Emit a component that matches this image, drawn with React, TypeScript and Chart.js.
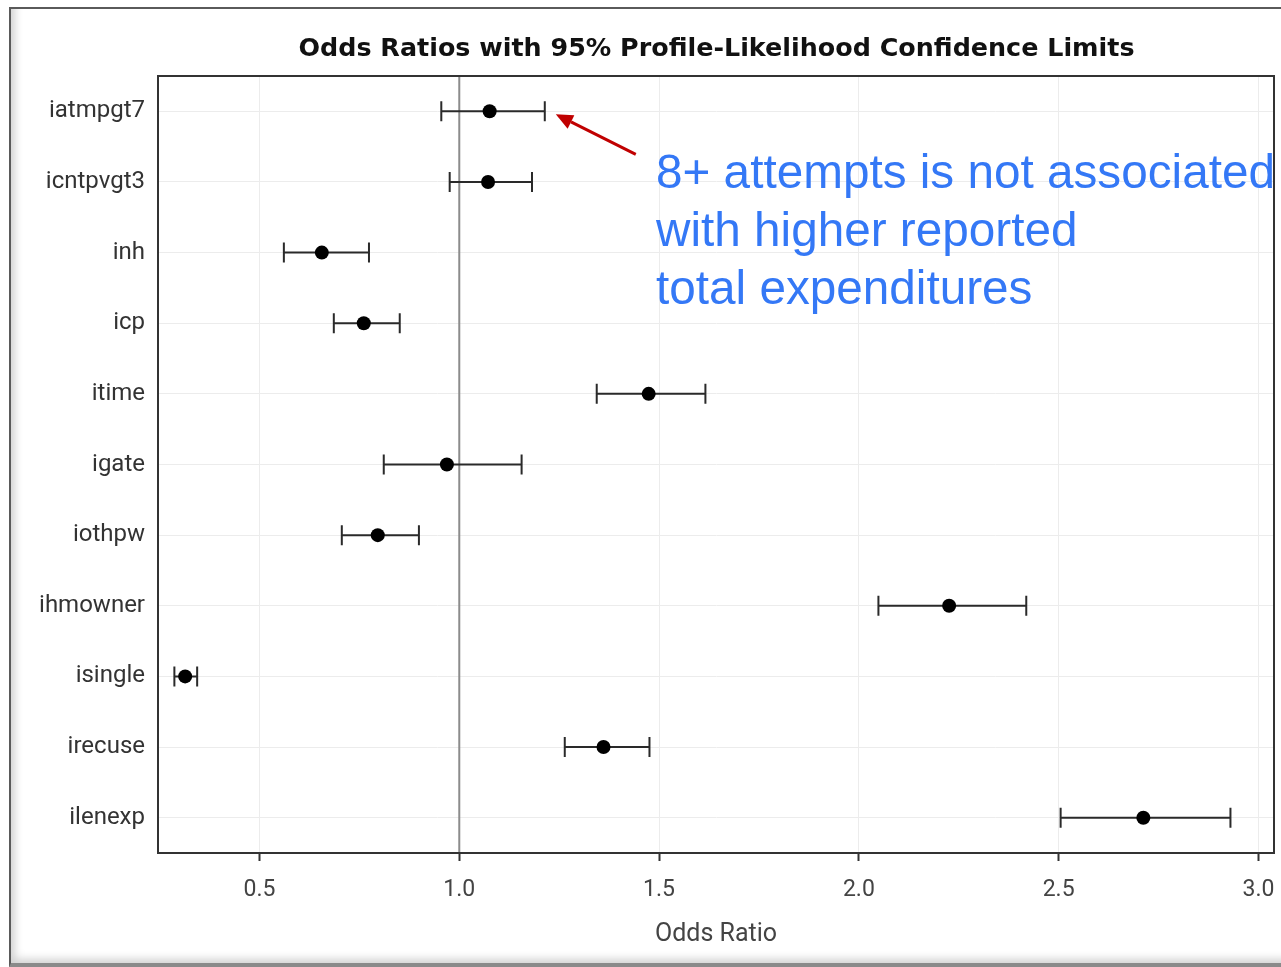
import React, { useEffect, useRef } from "react";
import { Chart, registerables } from "chart.js";

Chart.register(...registerables);

const categories = ["iatmpgt7", "icntpvgt3", "inh", "icp", "itime", "igate", "iothpw", "ihmowner", "isingle", "irecuse", "ilenexp"];
const oddsRatio = [1.076, 1.072, 0.656, 0.761, 1.474, 0.969, 0.796, 2.226, 0.314, 1.361, 2.712];
const lowerCL = [0.955, 0.976, 0.561, 0.686, 1.344, 0.811, 0.706, 2.049, 0.287, 1.264, 2.505];
const upperCL = [1.214, 1.182, 0.774, 0.851, 1.616, 1.156, 0.899, 2.419, 0.344, 1.476, 2.93];
const xTicks = [0.5, 1.0, 1.5, 2.0, 2.5, 3.0];
const xMin = 0.246;
const xMax = 3.039;
const referenceValue = 1.0;
const titleText = "Odds Ratios with 95% Profile-Likelihood Confidence Limits";
const xAxisTitle = "Odds Ratio";
const annotationLines = ["8+ attempts is not associated", "with higher reported", "total expenditures"];
const annotatedIndex = 0;

const overlayPlugin = {
  id: "overlayPlugin",
  beforeDatasetsDraw(chart: any) {
    const { ctx, chartArea, scales } = chart;
    const xs = scales.x;
    const ys = scales.y;
    ctx.save();
    const rx = xs.getPixelForValue(referenceValue);
    ctx.strokeStyle = "#8c8c8c";
    ctx.lineWidth = 2;
    ctx.beginPath();
    ctx.moveTo(rx, chartArea.top);
    ctx.lineTo(rx, chartArea.bottom);
    ctx.stroke();
    ctx.strokeStyle = "#2a2a2a";
    ctx.lineWidth = 2;
    categories.forEach((c, i) => {
      const y = ys.getPixelForValue(i);
      const x1 = xs.getPixelForValue(lowerCL[i]);
      const x2 = xs.getPixelForValue(upperCL[i]);
      ctx.beginPath();
      ctx.moveTo(x1, y);
      ctx.lineTo(x2, y);
      ctx.moveTo(x1, y - 10);
      ctx.lineTo(x1, y + 10);
      ctx.moveTo(x2, y - 10);
      ctx.lineTo(x2, y + 10);
      ctx.stroke();
    });
    ctx.restore();
  },
  afterDraw(chart: any) {
    const { ctx, chartArea, scales } = chart;
    const xs = scales.x;
    const ys = scales.y;
    ctx.save();
    ctx.strokeStyle = "#333";
    ctx.lineWidth = 2;
    ctx.strokeRect(chartArea.left, chartArea.top, chartArea.right - chartArea.left, chartArea.bottom - chartArea.top);
    const tipX = xs.getPixelForValue(upperCL[annotatedIndex]) + 11;
    const tipY = ys.getPixelForValue(annotatedIndex) + 3;
    const tailX = tipX + 80;
    const tailY = tipY + 40;
    const dx = tipX - tailX;
    const dy = tipY - tailY;
    const len = Math.hypot(dx, dy);
    const ux = dx / len;
    const uy = dy / len;
    const headLen = 17;
    const headHalf = 7.5;
    const bx = tipX - ux * headLen;
    const by = tipY - uy * headLen;
    ctx.strokeStyle = "#C00000";
    ctx.fillStyle = "#C00000";
    ctx.lineWidth = 3;
    ctx.beginPath();
    ctx.moveTo(tailX, tailY);
    ctx.lineTo(bx, by);
    ctx.stroke();
    ctx.beginPath();
    ctx.moveTo(tipX, tipY);
    ctx.lineTo(bx - uy * headHalf, by + ux * headHalf);
    ctx.lineTo(bx + uy * headHalf, by - ux * headHalf);
    ctx.closePath();
    ctx.fill();
    ctx.restore();
  },
};

export default function App() {
  const canvasRef = useRef<HTMLCanvasElement | null>(null);

  useEffect(() => {
    if (!canvasRef.current) return;
    const chart = new Chart(canvasRef.current, {
      type: "scatter",
      data: {
        labels: categories,
        datasets: [
          {
            label: "Odds Ratio",
            data: categories.map((c, i) => ({ x: oddsRatio[i], y: c })) as any,
            pointRadius: 7,
            pointBackgroundColor: "#000",
            pointBorderColor: "#000",
            pointBorderWidth: 0,
            showLine: false,
          },
        ],
      },
      options: {
        animation: false,
        responsive: false,
        maintainAspectRatio: false,
        devicePixelRatio: 1,
        events: [],
        layout: { padding: { left: 10, top: 76, right: 6, bottom: 0 } },
        plugins: {
          legend: { display: false },
          tooltip: { enabled: false },
          title: { display: false },
        },
        scales: {
          x: {
            type: "linear",
            min: xMin,
            max: xMax,
            afterBuildTicks: (s: any) => {
              s.ticks = xTicks.map((v) => ({ value: v }));
            },
            afterFit: (s: any) => {
              s.height = 114;
              s.paddingLeft = 0;
              s.paddingRight = 0;
            },
            ticks: {
              callback: (v: any) => Number(v).toFixed(1),
              color: "#444",
              font: { family: "Roboto", size: 23 },
              padding: 15,
              maxRotation: 0,
              autoSkip: false,
            },
            grid: { color: "#ececec", lineWidth: 1, tickColor: "#333", tickLength: 8, tickWidth: 2 },
            border: { color: "#333", width: 2 },
            title: {
              display: true,
              text: xAxisTitle,
              color: "#444",
              font: { family: "Roboto", size: 25 },
              padding: { top: 0, bottom: 17 },
            },
          },
          y: {
            type: "category",
            labels: categories,
            offset: true,
            afterFit: (s: any) => {
              s.width = 148;
              s.paddingTop = 0;
              s.paddingBottom = 0;
            },
            ticks: {
              color: "#333",
              font: { family: "Roboto", size: 24 },
              padding: 13,
              autoSkip: false,
            },
            grid: { color: "#ececec", lineWidth: 1, drawTicks: false },
            border: { color: "#333", width: 2 },
          },
        },
      } as any,
      plugins: [overlayPlugin],
    });
    return () => chart.destroy();
  }, []);

  return (
    <div style={{ position: "absolute", left: 0, top: 0, width: 1281, height: 967, overflow: "hidden", background: "#fff" }}>
      <div
        style={{
          position: "absolute",
          left: 9,
          top: 7,
          width: 1320,
          height: 960,
          boxSizing: "border-box",
          borderLeft: "2px solid #5a5a5a",
          borderTop: "2px solid #5a5a5a",
          borderBottom: "4px solid #8a8a8a",
          boxShadow: "inset 10px -10px 8px -6px #d2d2d2",
          background: "#fff",
        }}
      />
      <canvas ref={canvasRef} width={1281} height={967} style={{ position: "absolute", left: 0, top: 0, width: 1281, height: 967 }} />
      <div
        style={{
          position: "absolute",
          left: 158,
          width: 1117,
          top: 32,
          textAlign: "center",
          fontFamily: "'DejaVu Sans', sans-serif",
          fontWeight: "bold",
          fontSize: 25.4,
          lineHeight: "30px",
          color: "#111",
          whiteSpace: "nowrap",
        }}
      >
        {titleText}
      </div>
      <div
        style={{
          position: "absolute",
          left: 656,
          top: 143,
          fontFamily: "'Liberation Sans', Arial, sans-serif",
          fontSize: 47.7,
          lineHeight: "58px",
          color: "#3478F6",
          whiteSpace: "nowrap",
        }}
      >
        {annotationLines.map((l, i) => (
          <div key={i}>{l}</div>
        ))}
      </div>
    </div>
  );
}
